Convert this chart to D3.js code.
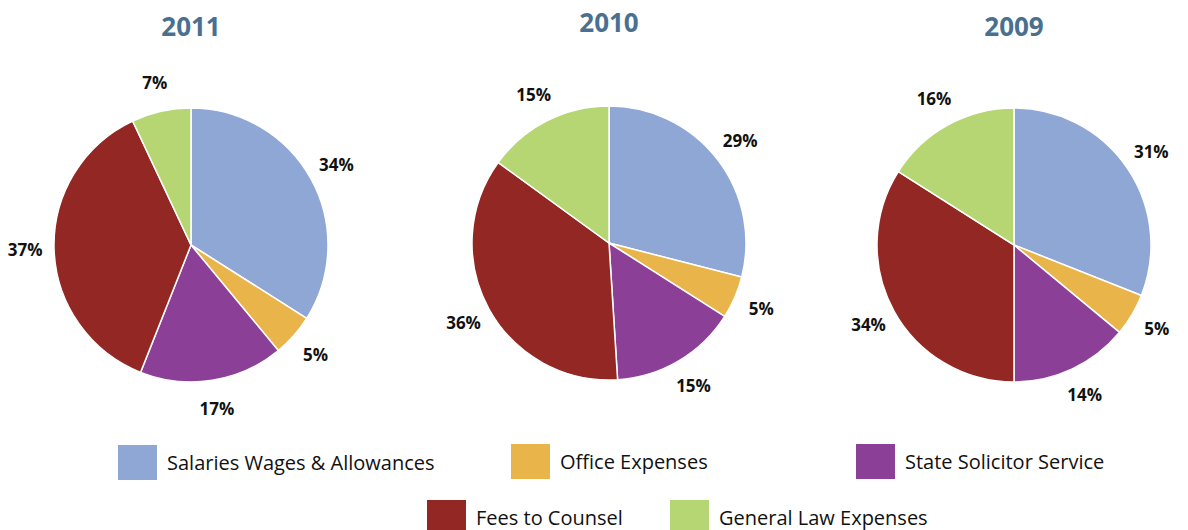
<!DOCTYPE html>
<html>
<head>
<meta charset="utf-8">
<script src="https://cdn.jsdelivr.net/npm/d3@7"></script>
<style>
  body { margin: 0; background: #fff; }
  svg text { font-family: "Open Sans", "Noto Sans", sans-serif; }
</style>
</head>
<body>
<div id="chart"></div>
<script>
// categories and yearly shares (%)
const categories = ["Salaries Wages & Allowances", "Office Expenses", "State Solicitor Service", "Fees to Counsel", "General Law Expenses"];
const years = ["2011", "2010", "2009"];
const values2011 = [34, 5, 17, 37, 7];
const values2010 = [29, 5, 15, 36, 15];
const values2009 = [31, 5, 14, 34, 16];
const colors = ["#8fa7d5", "#e9b54a", "#8c3f97", "#932723", "#b5d672"];

const width = 1188, height = 530;
const radius = 137;
const labelRadius = 166;

const svg = d3.select("#chart").append("svg")
  .attr("width", width)
  .attr("height", height);

// middle pie sits slightly off the even spacing
const centerX = { "2011": 191, "2010": 609, "2009": 1014 };
const centerY = { "2011": 245, "2010": 243, "2009": 245 };
const titleY = { "2011": 36, "2010": 32, "2009": 36 };
const seriesByYear = { "2011": values2011, "2010": values2010, "2009": values2009 };

const color = d3.scaleOrdinal().domain(categories).range(colors);

const pie = d3.pie().sort(null).value(d => d.value);
const arc = d3.arc().innerRadius(0).outerRadius(radius);
const labelArc = d3.arc().innerRadius(labelRadius).outerRadius(labelRadius);

years.forEach(year => {
  const data = categories.map((c, i) => ({ cat: c, value: seriesByYear[year][i] }));
  const g = svg.append("g")
    .attr("transform", `translate(${centerX[year]},${centerY[year]})`);

  g.selectAll("path.slice")
    .data(pie(data))
    .join("path")
    .attr("class", "slice")
    .attr("d", arc)
    .attr("fill", d => color(d.data.cat))
    .attr("stroke", "#fff")
    .attr("stroke-width", 1.5);

  g.selectAll("text.pct")
    .data(pie(data))
    .join("text")
    .attr("class", "pct")
    .attr("transform", d => `translate(${labelArc.centroid(d)})`)
    .attr("text-anchor", "middle")
    .attr("dy", "0.35em")
    .style("font-size", "17px")
    .style("font-weight", "bold")
    .style("fill", "#111")
    .text(d => d.data.value + "%");

  svg.append("text")
    .attr("x", centerX[year])
    .attr("y", titleY[year])
    .attr("text-anchor", "middle")
    .style("font-size", "26px")
    .style("font-weight", "bold")
    .style("fill", "#4a7090")
    .text(year);
});

// legend, two rows
const legendPos = [
  { x: 118, y: 445 },
  { x: 511, y: 444 },
  { x: 856, y: 444 },
  { x: 427, y: 500 },
  { x: 670, y: 500 }
];

const legend = svg.append("g").selectAll("g")
  .data(categories)
  .join("g")
  .attr("transform", (d, i) => `translate(${legendPos[i].x},${legendPos[i].y})`);

legend.append("rect")
  .attr("width", 39)
  .attr("height", 35)
  .attr("fill", d => color(d));

legend.append("text")
  .attr("x", 49)
  .attr("y", 25)
  .style("font-size", "20px")
  .style("fill", "#111")
  .text(d => d);
</script>
</body>
</html>
